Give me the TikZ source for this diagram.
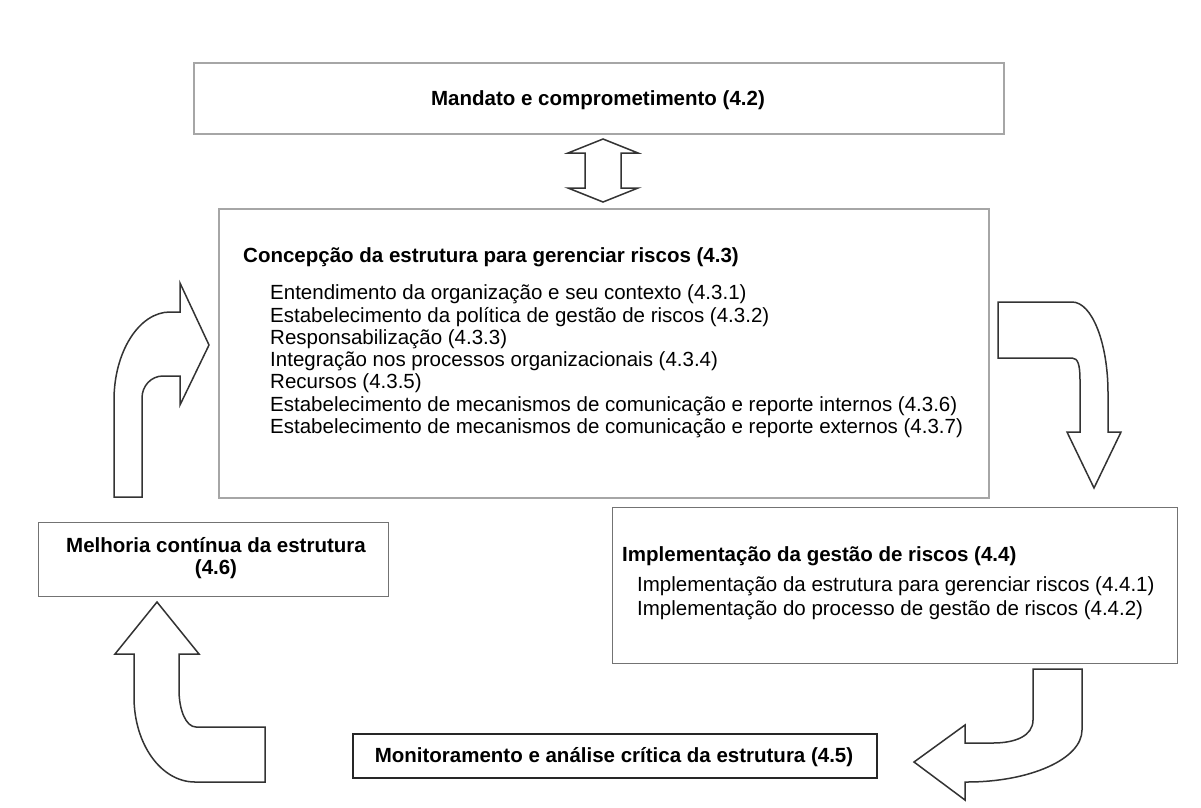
\documentclass[tikz,border=0pt]{standalone}
\usepackage{fontspec}
\setmainfont{Liberation Sans}
\begin{document}
\begin{tikzpicture}[x=1pt,y=-1pt,
  lightbox/.style={draw=black!35, line width=1.6pt, inner sep=0pt},
  midbox/.style={draw=black!55, line width=1.4pt, inner sep=0pt},
  darkbox/.style={draw=black!85, line width=1.6pt, inner sep=0pt},
  blockarrow/.style={draw=black!80, line width=1.5pt, fill=white, line join=miter},
  ttl/.style={font=\fontsize{20.5}{22}\selectfont\bfseries, inner sep=0pt},
  itm/.style={font=\fontsize{20.5}{22}\selectfont, inner sep=0pt, anchor=base west}]
\useasboundingbox (0,0) rectangle (1201,807);
\fill[white] (0,0) rectangle (1201,807);

% boxes
\node[lightbox, minimum width=810pt, minimum height=71pt, anchor=north west] (mandato) at (193,62) {};
\node[ttl, anchor=base] (mandatot) at (598,105) {Mandato e comprometimento (4.2)};

\node[lightbox, minimum width=770pt, minimum height=289pt, anchor=north west] (concep) at (218,208) {};
\node[ttl, anchor=base west] (concept) at (243,262) {Concepção da estrutura para gerenciar riscos (4.3)};
\node[itm] (c1) at (270,299) {Entendimento da organização e seu contexto (4.3.1)};
\node[itm] (c2) at (270,322) {Estabelecimento da política de gestão de riscos (4.3.2)};
\node[itm] (c3) at (270,344) {Responsabilização (4.3.3)};
\node[itm] (c4) at (270,366) {Integração nos processos organizacionais (4.3.4)};
\node[itm] (c5) at (270,388) {Recursos (4.3.5)};
\node[itm] (c6) at (270,411) {Estabelecimento de mecanismos de comunicação e reporte internos (4.3.6)};
\node[itm] (c7) at (270,433) {Estabelecimento de mecanismos de comunicação e reporte externos (4.3.7)};

\node[midbox, minimum width=350pt, minimum height=74pt, anchor=north west] (melhoria) at (38,522) {};
\node[ttl, anchor=base] (melhoriat) at (216,552) {Melhoria contínua da estrutura};
\node[ttl, anchor=base] (melhoriat2) at (216,574) {(4.6)};

\node[midbox, minimum width=565pt, minimum height=156pt, anchor=north west] (impl) at (612,507) {};
\node[ttl, anchor=base west] (implt) at (622,561) {Implementação da gestão de riscos (4.4)};
\node[itm] (i1) at (637,591) {Implementação da estrutura para gerenciar riscos (4.4.1)};
\node[itm] (i2) at (637,615) {Implementação do processo de gestão de riscos (4.4.2)};

\node[darkbox, minimum width=524pt, minimum height=44pt, anchor=north west] (monit) at (352,733) {};
\node[ttl, anchor=base] (monitt) at (614,762) {Monitoramento e análise crítica da estrutura (4.5)};

% double arrow between Mandato and Concepcao
\draw[blockarrow] (603,139) -- (638,153) -- (621,153) -- (621,188) -- (638,188) -- (603,202)
  -- (568,188) -- (585,188) -- (585,153) -- (568,153) -- cycle;

% left arrow (up then right)
\draw[blockarrow] (114,497) -- (114,400) .. controls (114,352) and (139,312) .. (170,312)
  -- (180,312) -- (180,283) -- (209,345) -- (180,405) -- (180,376) -- (163,376)
  .. controls (151,376) and (142,386) .. (142,398) -- (142,497) -- cycle;

% top right arrow (right then down)
\draw[blockarrow] (998,302) -- (1072,302) .. controls (1092,302) and (1108,343) .. (1108,393)
  -- (1108,432) -- (1121,432) -- (1094,488) -- (1067,432) -- (1080,432) -- (1080,380)
  .. controls (1080,365) and (1078,358) .. (1072,358) -- (998,358) -- cycle;

% bottom right arrow (down then left)
\draw[blockarrow] (1082,669) -- (1082,730) .. controls (1082,759) and (1030,782) .. (967,782)
  -- (965,782) -- (965,800) -- (914,762) -- (965,725) -- (965,743) -- (993,743)
  .. controls (1015,743) and (1033,736) .. (1033,720) -- (1033,669) -- cycle;

% bottom left arrow (left then up)
\draw[blockarrow] (265,782) -- (195,782) .. controls (161,782) and (134,744) .. (134,697)
  -- (134,654) -- (115,654) -- (157,602) -- (199,654) -- (179,654) -- (179,690)
  .. controls (179,710) and (186,727) .. (196,727) -- (265,727) -- cycle;
\end{tikzpicture}
\end{document}
